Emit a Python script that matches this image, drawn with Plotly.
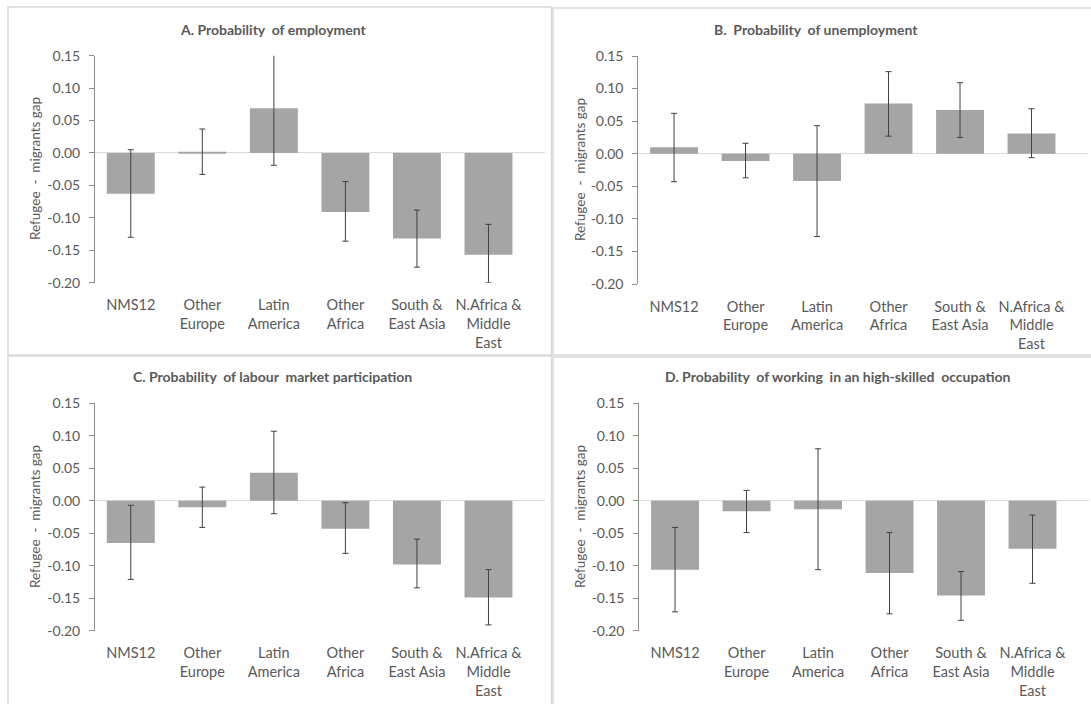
import plotly.graph_objects as go

W, H = 1091, 704

categories = ["NMS12", "Other<br>Europe", "Latin<br>America", "Other<br>Africa",
              "South &<br>East Asia", "N.Africa &<br>Middle<br>East"]

employment = [-0.063, 0.002, 0.069, -0.091, -0.132, -0.157]
employment_lo = [-0.130, -0.033, -0.019, -0.136, -0.176, -0.200]
employment_hi = [0.005, 0.037, 0.152, -0.044, -0.088, -0.110]

unemployment = [0.010, -0.011, -0.042, 0.077, 0.067, 0.031]
unemployment_lo = [-0.043, -0.037, -0.127, 0.027, 0.025, -0.006]
unemployment_hi = [0.062, 0.016, 0.043, 0.126, 0.109, 0.069]

participation = [-0.065, -0.010, 0.043, -0.043, -0.098, -0.149]
participation_lo = [-0.121, -0.041, -0.020, -0.081, -0.134, -0.191]
participation_hi = [-0.007, 0.021, 0.107, -0.003, -0.059, -0.106]

highskill = [-0.106, -0.016, -0.013, -0.111, -0.146, -0.074]
highskill_lo = [-0.171, -0.049, -0.106, -0.174, -0.184, -0.127]
highskill_hi = [-0.041, 0.016, 0.080, -0.049, -0.109, -0.022]

panel_titles = ["A. Probability  of employment",
                "B.  Probability  of unemployment",
                "C. Probability  of labour  market participation",
                "D. Probability  of working  in an high-skilled  occupation"]
y_title = "Refugee  -  migrants gap"
tick_values = [-0.20, -0.15, -0.10, -0.05, 0.00, 0.05, 0.10, 0.15]
tick_labels = ["-0.20", "-0.15", "-0.10", "-0.05", "0.00", "0.05", "0.10", "0.15"]

series = [(employment, employment_lo, employment_hi),
          (unemployment, unemployment_lo, unemployment_hi),
          (participation, participation_lo, participation_hi),
          (highskill, highskill_lo, highskill_hi)]

# pixel layout of each panel: (x_axis_left, x_right, y_top(0.15), y_bottom(-0.20))
panels_px = [(95, 545, 55.7, 282.7),
             (638.3, 1088, 56, 284),
             (95, 545, 403.3, 630.7),
             (639.3, 1089, 403.3, 630.7)]
title_px = [(273, 30), (816, 30), (272.5, 376.7), (838, 376.5)]
ytitle_px = [(35, 169), (580, 170), (35, 517), (580, 517)]
borders_px = [(8, 7, 551.5, 355), (553, 8, 1095, 355),
              (8, 356, 551.5, 712), (553, 357, 1095, 712)]

GRAY_TXT = "#595959"
FONT = "Lato"

fig = go.Figure()
layout = {}
annotations = []
shapes = []

for i, (vals, lo, hi) in enumerate(series):
    sfx = "" if i == 0 else str(i + 1)
    err_plus = [h - v for h, v in zip(hi, vals)]
    err_minus = [v - l for l, v in zip(lo, vals)]
    fig.add_trace(go.Bar(
        x=categories, y=vals, width=0.67,
        marker=dict(color="#a5a5a5", line=dict(width=0)),
        error_y=dict(type="data", symmetric=False, array=err_plus,
                     arrayminus=err_minus, color="#404040", thickness=1, width=3),
        xaxis="x" + sfx, yaxis="y" + sfx, showlegend=False,
    ))
    x0, x1, yt, yb = panels_px[i]
    layout["xaxis" + sfx] = dict(
        domain=[x0 / W, x1 / W], anchor="y" + sfx, range=[-0.5, 5.79],
        showline=False, ticks="", showgrid=False, zeroline=False, automargin=False,
        tickfont=dict(family=FONT, size=14.5, color=GRAY_TXT), ticklabelstandoff=12,
    )
    layout["yaxis" + sfx] = dict(
        domain=[1 - yb / H, 1 - yt / H], anchor="x" + sfx, range=[-0.20, 0.15],
        tickvals=tick_values, ticktext=tick_labels, automargin=False,
        showline=True, linecolor="#8c8c8c", linewidth=1,
        ticks="outside", ticklen=5, tickcolor="#8c8c8c",
        showgrid=False, zeroline=True, zerolinecolor="#d9d9d9", zerolinewidth=1,
        tickfont=dict(family=FONT, size=14, color=GRAY_TXT), ticklabelstandoff=6,
    )
    tx, ty = title_px[i]
    annotations.append(dict(text="<b>" + panel_titles[i] + "</b>", x=tx / W, y=1 - ty / H,
                            xref="paper", yref="paper", showarrow=False,
                            xanchor="center", yanchor="middle",
                            font=dict(family=FONT, size=14, color=GRAY_TXT)))
    ax, ay = ytitle_px[i]
    annotations.append(dict(text=y_title, x=ax / W, y=1 - ay / H,
                            xref="paper", yref="paper", showarrow=False, textangle=-90,
                            xanchor="center", yanchor="middle",
                            font=dict(family=FONT, size=13.5, color=GRAY_TXT)))
    bx0, by0, bx1, by1 = borders_px[i]
    shapes.append(dict(type="rect", xref="paper", yref="paper",
                       x0=bx0 / W, x1=bx1 / W, y0=1 - by1 / H, y1=1 - by0 / H,
                       line=dict(color="#d9d9d9", width=1.5), layer="below"))

fig.update_layout(
    width=W, height=H, margin=dict(l=0, r=0, t=0, b=0, pad=0, autoexpand=False),
    paper_bgcolor="white", plot_bgcolor="rgba(0,0,0,0)",
    bargap=0.33, annotations=annotations, shapes=shapes,
    font=dict(family=FONT, color=GRAY_TXT),
    **layout,
)

fig.write_html("out.html", config={"displayModeBar": False},
               post_script="document.body.style.margin='0';document.body.style.overflow='hidden';")
